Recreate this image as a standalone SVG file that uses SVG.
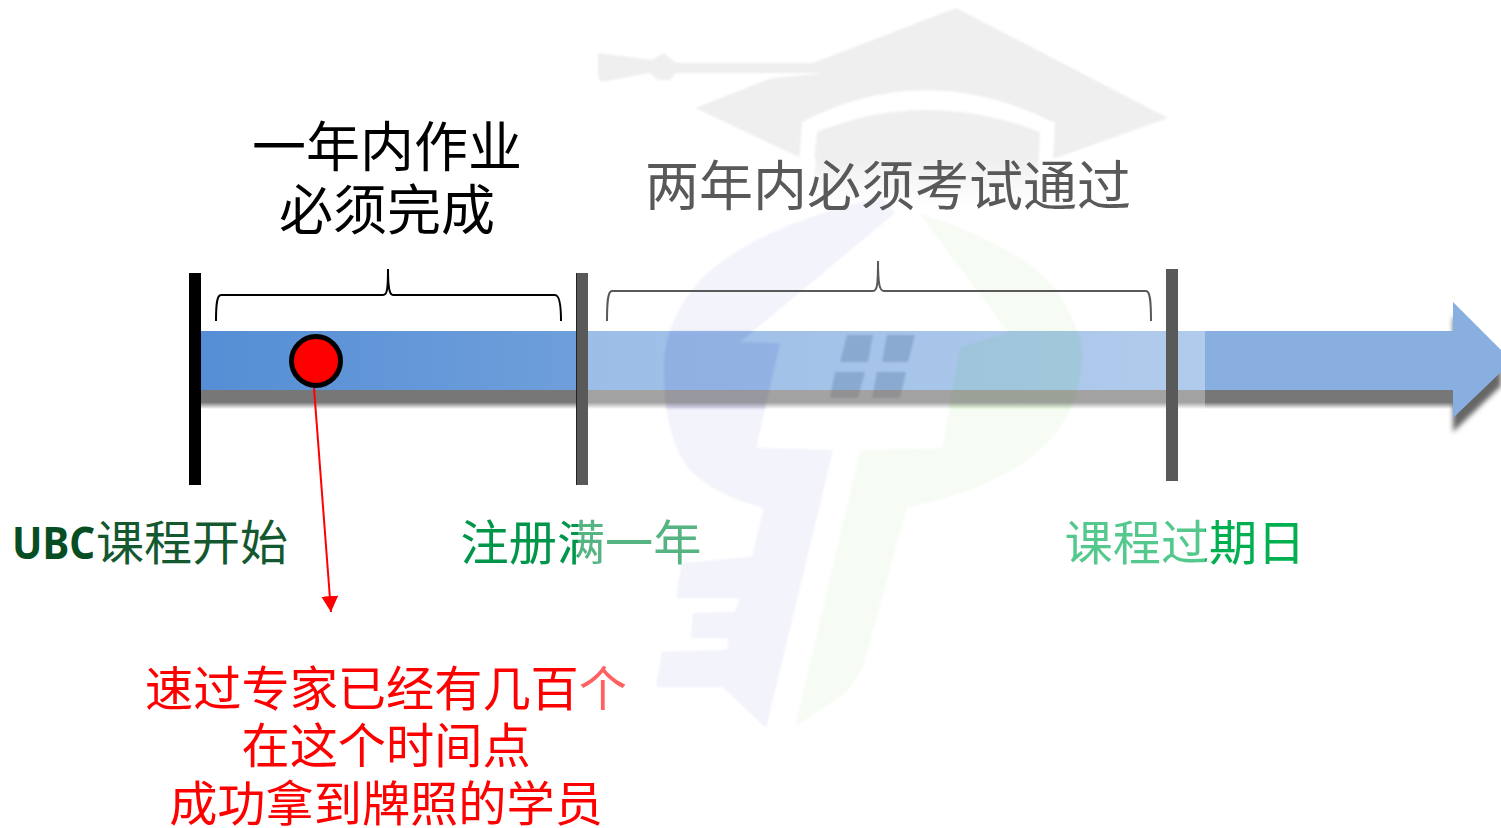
<svg xmlns="http://www.w3.org/2000/svg" width="1501" height="828" viewBox="0 0 1501 828">
<defs>
<linearGradient id="barA" gradientUnits="userSpaceOnUse" x1="200" y1="0" x2="580" y2="0"><stop offset="0" stop-color="#558ed5"/><stop offset="1" stop-color="#6f9fdb"/></linearGradient>
<linearGradient id="barB" gradientUnits="userSpaceOnUse" x1="588" y1="0" x2="1205" y2="0"><stop offset="0" stop-color="#558ed5" stop-opacity="0.58"/><stop offset="1" stop-color="#558ed5" stop-opacity="0.46"/></linearGradient>
<linearGradient id="shaftShadow" x1="0" y1="0" x2="0" y2="1"><stop offset="0" stop-color="#777"/><stop offset="0.65" stop-color="#777"/><stop offset="1" stop-color="#777" stop-opacity="0"/></linearGradient>
<linearGradient id="shaftShadowB" x1="0" y1="0" x2="0" y2="1"><stop offset="0" stop-color="#777" stop-opacity="0.68"/><stop offset="0.65" stop-color="#777" stop-opacity="0.68"/><stop offset="1" stop-color="#777" stop-opacity="0"/></linearGradient>
<linearGradient id="capFade" x1="0" y1="0" x2="0" y2="1"><stop offset="0" stop-color="#efefef"/><stop offset="1" stop-color="#fff"/></linearGradient>
<linearGradient id="g1" gradientUnits="userSpaceOnUse" x1="460" y1="0" x2="700" y2="0"><stop offset="0" stop-color="#00964a"/><stop offset="0.492" stop-color="#00964a"/><stop offset="0.492" stop-color="#56b483"/><stop offset="1" stop-color="#56b483"/></linearGradient>
<linearGradient id="g2" gradientUnits="userSpaceOnUse" x1="1068" y1="0" x2="1302" y2="0"><stop offset="0" stop-color="#55c98d"/><stop offset="0.585" stop-color="#55c98d"/><stop offset="0.585" stop-color="#00b050"/><stop offset="1" stop-color="#00b050"/></linearGradient>
<linearGradient id="r1" gradientUnits="userSpaceOnUse" x1="146" y1="0" x2="628" y2="0"><stop offset="0" stop-color="#f00"/><stop offset="0.896" stop-color="#f00"/><stop offset="0.896" stop-color="#ff6060"/><stop offset="1" stop-color="#ff6060"/></linearGradient>
<filter id="blur" x="-20%" y="-20%" width="140%" height="140%"><feGaussianBlur stdDeviation="2.5"/></filter>
<filter id="soft" x="-5%" y="-5%" width="110%" height="110%"><feGaussianBlur stdDeviation="1"/></filter>
<clipPath id="inBar"><rect x="588" y="331" width="617" height="78"/></clipPath>
<marker id="arr" markerUnits="userSpaceOnUse" markerWidth="18" markerHeight="18" refX="16" refY="8.5" orient="auto"><path d="M0,0 L16,8.5 L0,17 Z" fill="#f00"/></marker>
<path id="keyBlue" d="M882,197 Q760,225 703,277 Q664,320 664,367 Q664,440 690,470 Q715,495 764,508 L752,557 L682,563 L676,598 L740,598 L735,612 L693,613 L691,638 L729,638 L727,650 L662,652 L656,687 L723,687 L766,728 L833,450 L756,448 L780,343 L740,342 L895,213 Z"/>
<path id="keyGreen" d="M919,213 Q1030,250 1060,295 Q1084,335 1082,360 Q1078,410 1050,440 Q1010,485 907,508 L862,670 L846,693 L795,727 L860,450 L942,448 L960,347 L1009,333 Z"/>
</defs>
<style>
text{font-family:"Noto Sans CJK SC","Liberation Sans",sans-serif;text-anchor:middle}
.t54{font-size:54px;fill:#000}
.t{font-size:48.2px}
.red{font-size:48.2px;fill:#f00}
.brace{fill:none;stroke-width:2}
</style>
<rect width="1501" height="828" fill="#fff"/>
<g id="watermark" filter="url(#soft)">
<path d="M956,8 L1168,118 L1056,158 L801,158 L695,108 L772,78 L825,73 L676,73 L670,80 L658,80 L650,73 L601,82 L598,77 L598,53 L652,60 L664,53 L676,63 L813,63 Z" fill="#efefef"/>
<path d="M816,158 L1040,158 L1038,205 L812,205 Z" fill="url(#capFade)"/>
<path d="M802,122 Q925,58 1055,123 L1052,180 L1038,180 L1040,132 Q925,88 817,132 L812,180 L798,180 Z" fill="#fff"/>
<use href="#keyBlue" fill="#f2f3fb"/>
<use href="#keyGreen" fill="#f6fcf4"/>
<g clip-path="url(#inBar)">
<use href="#keyBlue" fill="#dcdcf4"/>
<use href="#keyGreen" fill="#e8fde0"/>
<path d="M847,335 L873,335 L868,362 L840,362 Z M887,335 L915,335 L908,362 L882,362 Z M835,372 L865,372 L858,398 L830,398 Z M877,372 L906,372 L900,398 L872,398 Z" fill="#c6c8cc"/>
</g>
</g>
<g id="timeline-bar">
<path d="M1453,316 L1501,364 V386 L1453,432 Z" fill="#666" filter="url(#blur)"/>
<rect x="200" y="390" width="380" height="19" fill="url(#shaftShadow)"/>
<rect x="580" y="390" width="625" height="19" fill="url(#shaftShadowB)"/>
<rect x="1205" y="390" width="250" height="19" fill="url(#shaftShadow)"/>
<rect x="200" y="331" width="380" height="59" fill="url(#barA)"/>
<rect x="580" y="331" width="625" height="59" fill="url(#barB)"/>
<path d="M1205,331 H1453 V302 L1501,350 V372 L1453,418 V390 H1205 Z" fill="#89aee0"/>
</g>
<g id="tick-start"><rect x="189" y="273" width="12" height="212" fill="#000"/></g>
<g id="tick-year"><rect x="576" y="273" width="12" height="212" fill="#595959"/><rect x="576" y="273" width="1" height="212" fill="#222"/></g>
<g id="tick-expiry"><rect x="1166" y="269" width="12" height="212" fill="#595959"/></g>
<g id="brace-one"><path class="brace" stroke="#000" d="M216,321 C216,304 217,295 221,295 H383 C387,295 388,290 388,269 C388,290 390,295 393,295 H555 C559,295 561,304 561,321"/></g>
<g id="brace-two"><path class="brace" stroke="#595959" d="M607,321 C607,300 608,291 612,291 H873 C877,291 878,286 878,261 C878,286 880,291 884,291 H1146 C1150,291 1151,300 1151,321"/></g>
<g id="connectors"><line x1="314" y1="388" x2="331" y2="612" stroke="#f00" stroke-width="2" marker-end="url(#arr)"/></g>
<g id="event-dot"><circle cx="316" cy="361" r="24.5" fill="#f00" stroke="#000" stroke-width="5"/></g>
<g id="label-one-year"><text class="t54" x="387" y="167">一年内作业</text><text class="t54" x="387" y="230">必须完成</text></g>
<g id="label-two-year"><text class="t54" x="888" y="206" style="fill:#595959">两年内必须考试通过</text></g>
<g id="label-start"><text x="12" y="559" font-size="44" font-weight="700" fill="#064d23" textLength="83" lengthAdjust="spacingAndGlyphs" style="font-family:'Noto Sans','Liberation Sans',sans-serif;text-anchor:start">UBC</text><text x="96" y="560" font-size="48" fill="#14582f" style="text-anchor:start">课程开始</text></g>
<g id="label-enrolled"><text class="t" x="581" y="560" fill="url(#g1)">注册满一年</text></g>
<g id="label-expiry"><text class="t" x="1185" y="560" fill="url(#g2)">课程过期日</text></g>
<g id="label-note"><text class="red" x="386" y="706" style="fill:url(#r1)">速过专家已经有几百个</text><text class="red" x="386" y="763">在这个时间点</text><text class="red" x="386" y="821">成功拿到牌照的学员</text></g>
</svg>
